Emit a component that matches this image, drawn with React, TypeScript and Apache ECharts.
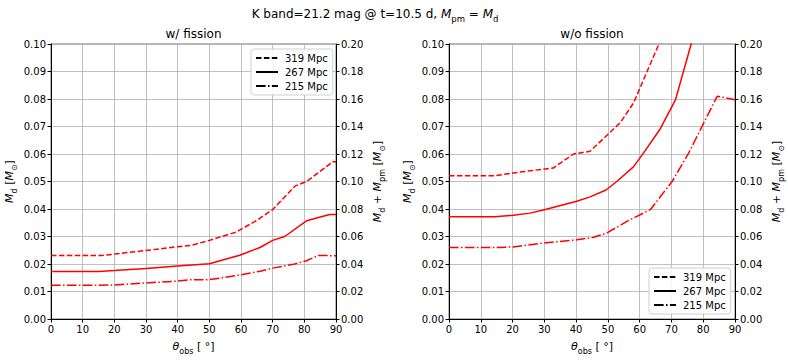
import React, { useEffect, useRef } from "react";
import * as echarts from "echarts";

// ---- data ----
const xTicks = [0, 90, 10];
const legendNames = ["319 Mpc", "267 Mpc", "215 Mpc"];

// w/ fission
const fis319Theta = [0, 16, 20, 30, 40, 44, 50, 58.5, 65, 70, 77, 80.7, 89, 90];
const fis319Val = [0.0231, 0.0231, 0.0236, 0.0249, 0.0263, 0.0267, 0.0286, 0.0316, 0.0359, 0.0398, 0.0483, 0.05, 0.0572, 0.0572];
const fis267Theta = [0, 15, 20, 30, 40, 50, 59.6, 66, 70, 73.8, 80.7, 88, 90];
const fis267Val = [0.0173, 0.0173, 0.0176, 0.0184, 0.0193, 0.0201, 0.0232, 0.026, 0.0286, 0.03, 0.0357, 0.038, 0.038];
const fis215Theta = [0, 15, 20, 30, 40, 44, 50, 59.6, 66, 70, 77, 80.7, 84.4, 90];
const fis215Val = [0.0123, 0.0123, 0.0124, 0.0131, 0.0138, 0.0143, 0.0143, 0.016, 0.0174, 0.0185, 0.02, 0.0212, 0.0231, 0.023];

// w/o fission
const nof319Theta = [0, 14.4, 20.2, 25.5, 32.8, 39.2, 44.4, 49.7, 53.9, 58.1, 66.5];
const nof319Val = [0.0521, 0.0521, 0.0531, 0.0539, 0.0549, 0.06, 0.061, 0.0668, 0.0714, 0.0786, 0.1012];
const nof267Theta = [0, 14.4, 20.2, 25.5, 29.7, 40.2, 44.4, 49.4, 52.8, 58.1, 61.3, 66.5, 71.3, 76.5];
const nof267Val = [0.0372, 0.0372, 0.0377, 0.0385, 0.0396, 0.0428, 0.0444, 0.0469, 0.05, 0.0554, 0.0605, 0.0692, 0.0798, 0.1012];
const nof215Theta = [0, 14.4, 20.2, 29.7, 40.2, 45.5, 49.7, 56, 63.4, 70.2, 75.5, 80.2, 84.4, 90];
const nof215Val = [0.026, 0.026, 0.0262, 0.0276, 0.0288, 0.0297, 0.0313, 0.0355, 0.0398, 0.05, 0.0605, 0.0714, 0.081, 0.0797];

const FONT = "DejaVu Sans";
const RED = "#ff0000";
const DASHED = [5.5, 2.4];
const DASHDOT = [9.6, 2.4, 1.5, 2.4];
const styles = ["dashed", "solid", "dashdot"];

const zip = (xs: number[], ys: number[]) => xs.map((x, i) => [x, ys[i]]);
const lineType = (s: string) => (s === "dashed" ? DASHED : s === "dashdot" ? DASHDOT : "solid");

const rich = {
  n: { fontFamily: FONT, fontSize: 11, color: "#000" },
  i: { fontFamily: FONT, fontSize: 11, fontStyle: "italic", color: "#000" },
  s: { fontFamily: FONT, fontSize: 8, color: "#000", verticalAlign: "bottom", padding: [0, 0, -3, 0] },
};

export default function App() {
  const ref = useRef<HTMLDivElement>(null);
  useEffect(() => {
    document.body.style.margin = "0";
    const chart = echarts.init(ref.current!, null, { renderer: "svg" });
    const grids = [
      { left: 51, top: 44, width: 285, height: 278 },
      { left: 449, top: 44, width: 286, height: 278 },
    ];
    const xAxis = grids.map((_, gi) => ({
      type: "value",
      gridIndex: gi,
      min: xTicks[0],
      max: xTicks[1],
      interval: xTicks[2],
      name: "{i|θ}{s|obs}{n| [ °]}",
      nameLocation: "middle",
      nameGap: 22,
      nameTextStyle: { rich },
      axisLine: { show: true, onZero: false, lineStyle: { color: "#000", width: 1 } },
      axisTick: { show: true, length: 3.5, lineStyle: { color: "#000" } },
      axisLabel: { fontFamily: FONT, fontSize: 10, color: "#000", margin: 5 },
      splitLine: { show: true, lineStyle: { color: "#b0b0b0", width: 0.8 } },
    }));
    const yAxis: any[] = [];
    grids.forEach((_, gi) => {
      yAxis.push({
        type: "value",
        gridIndex: gi,
        position: "left",
        min: 0,
        max: 0.1,
        interval: 0.01,
        name: "{i|M}{s|d}{n| [}{i|M}{s|⊙}{n|]}",
        nameLocation: "middle",
        nameRotate: 90,
        nameGap: 36,
        nameTextStyle: { rich },
        axisLine: { show: true, onZero: false, lineStyle: { color: "#000", width: 1 } },
        axisTick: { show: true, length: 3.5, lineStyle: { color: "#000" } },
        axisLabel: { fontFamily: FONT, fontSize: 10, color: "#000", margin: 5, formatter: (v: number) => v.toFixed(2) },
        splitLine: { show: true, lineStyle: { color: "#b0b0b0", width: 0.8 } },
      });
      yAxis.push({
        type: "value",
        gridIndex: gi,
        position: "right",
        min: 0,
        max: 0.2,
        interval: 0.02,
        name: "{i|M}{s|d}{n| + }{i|M}{s|pm}{n| [}{i|M}{s|⊙}{n|]}",
        nameLocation: "middle",
        nameRotate: 90,
        nameGap: 36,
        nameTextStyle: { rich },
        axisLine: { show: true, onZero: false, lineStyle: { color: "#000", width: 1 } },
        axisTick: { show: true, length: 3.5, lineStyle: { color: "#000" } },
        axisLabel: { fontFamily: FONT, fontSize: 10, color: "#000", margin: 5, formatter: (v: number) => v.toFixed(2) },
        splitLine: { show: false },
      });
    });
    const panels = [
      [zip(fis319Theta, fis319Val), zip(fis267Theta, fis267Val), zip(fis215Theta, fis215Val)],
      [zip(nof319Theta, nof319Val), zip(nof267Theta, nof267Val), zip(nof215Theta, nof215Val)],
    ];
    const series: any[] = [];
    panels.forEach((sets, gi) => {
      sets.forEach((data, si) => {
        series.push({
          type: "line",
          name: legendNames[si] + (gi === 0 ? " w/" : " w/o"),
          xAxisIndex: gi,
          yAxisIndex: gi * 2,
          data,
          symbol: "none",
          clip: true,
          lineStyle: { color: RED, width: 1.5, type: lineType(styles[si]) },
          itemStyle: { color: RED },
        });
      });
    });
    legendNames.forEach((nm, si) => {
      series.push({
        type: "line",
        name: nm,
        xAxisIndex: 0,
        yAxisIndex: 0,
        data: [],
        symbol: "none",
        lineStyle: { color: "#000", width: 1.5, type: lineType(styles[si]) },
        itemStyle: { color: "#000" },
      });
    });
    const legendBase = {
      data: legendNames,
      orient: "vertical",
      itemWidth: 22,
      itemHeight: 10,
      itemGap: 4,
      padding: [4, 5, 4, 4],
      backgroundColor: "rgba(255,255,255,0.85)",
      borderColor: "#d0d0d0",
      borderWidth: 1,
      borderRadius: 3,
      selectedMode: false,
      itemStyle: { opacity: 0, borderWidth: 0 },
      textStyle: { fontFamily: FONT, fontSize: 10, color: "#000", padding: [0, 0, 0, 2] },
    };
    chart.setOption({
      animation: false,
      backgroundColor: "#fff",
      grid: grids.map((g) => ({ ...g, show: true, borderColor: "#777", borderWidth: 1, backgroundColor: "transparent" })),
      xAxis,
      yAxis,
      series,
      legend: [
        { ...legendBase, left: 251, top: 49 },
        { ...legendBase, left: 649, top: 268 },
      ],
      graphic: [
        {
          type: "text",
          x: 375,
          y: 14,
          style: {
            text: "{n|K band=21.2 mag @ t=10.5 d, }{i|M}{s|pm}{n| = }{i|M}{s|d}",
            align: "center",
            verticalAlign: "middle",
            rich: {
              n: { fontFamily: FONT, fontSize: 12, fill: "#000" },
              i: { fontFamily: FONT, fontSize: 12, fontStyle: "italic", fill: "#000" },
              s: { fontFamily: FONT, fontSize: 8.5, fill: "#000", verticalAlign: "bottom", padding: [0, 0, -3, 0] },
            },
          },
        },
        {
          type: "text",
          x: 193.5,
          y: 34,
          style: { text: "w/ fission", align: "center", verticalAlign: "middle", fontFamily: FONT, fontSize: 12, fill: "#000" },
        },
        {
          type: "text",
          x: 592,
          y: 34,
          style: { text: "w/o fission", align: "center", verticalAlign: "middle", fontFamily: FONT, fontSize: 12, fill: "#000" },
        },
      ],
    });
    return () => chart.dispose();
  }, []);
  return <div ref={ref} style={{ width: 788, height: 360 }} />;
}
